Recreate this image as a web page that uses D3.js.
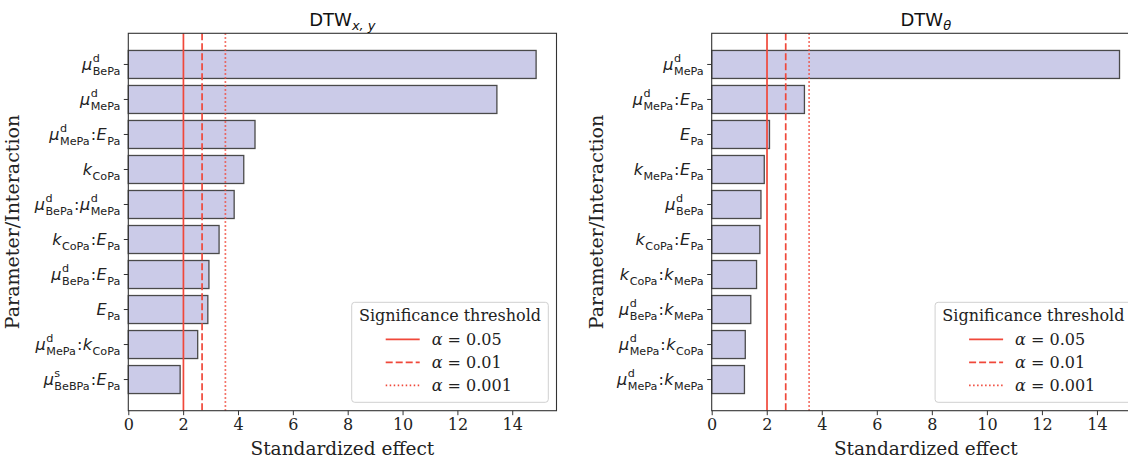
<!DOCTYPE html>
<html>
<head>
<meta charset="utf-8">
<script src="https://cdn.jsdelivr.net/npm/d3@7"></script>
<style>
  html, body { margin: 0; padding: 0; background: #fff; }
  svg { display: block; }
</style>
</head>
<body>
<div id="chart"></div>
<script>
// Left panel: DTW_{x,y}, top to bottom
var leftLabels = [
  'μ^d_BePa', 'μ^d_MePa', 'μ^d_MePa:E_Pa', 'k_CoPa', 'μ^d_BePa:μ^d_MePa',
  'k_CoPa:E_Pa', 'μ^d_BePa:E_Pa', 'E_Pa', 'μ^d_MePa:k_CoPa', 'μ^s_BeBPa:E_Pa'
];
var leftValues = [14.87, 13.44, 4.62, 4.21, 3.86, 3.31, 2.94, 2.90, 2.53, 1.89];

// Right panel: DTW_theta, top to bottom
var rightLabels = [
  'μ^d_MePa', 'μ^d_MePa:E_Pa', 'E_Pa', 'k_MePa:E_Pa', 'μ^d_BePa',
  'k_CoPa:E_Pa', 'k_CoPa:k_MePa', 'μ^d_BePa:k_MePa', 'μ^d_MePa:k_CoPa', 'μ^d_MePa:k_MePa'
];
var rightValues = [14.82, 3.37, 2.10, 1.91, 1.79, 1.75, 1.63, 1.42, 1.22, 1.19];

// Significance thresholds
var thresholds = [2.01, 2.69, 3.54];
var thresholdNames = ['α = 0.05', 'α = 0.01', 'α = 0.001'];
var thresholdDash = [null, '7,3', '1.5,2.5'];

var xTicks = [0, 2, 4, 6, 8, 10, 12, 14];

var W = 1128, H = 461;
var lineColor = '#f0483a';
var serif = '"DejaVu Serif", serif';
var sans = '"DejaVu Sans", sans-serif';

var svg = d3.select('#chart').append('svg').attr('width', W).attr('height', H);

drawPanel({ left: 128.3, labels: leftLabels, values: leftValues, sub: 'x, y' });
drawPanel({ left: 711.7, labels: rightLabels, values: rightValues, sub: 'θ' });

function drawPanel(cfg) {
  var top = 33.3, bottom = 410.7, width = 428.2;
  var right = cfg.left + width;

  var x = d3.scaleLinear()
    .domain([0, d3.max(cfg.values) * 1.05])
    .range([cfg.left, right]);

  var y = d3.scaleBand()
    .domain(cfg.labels)
    .range([top, bottom])
    .paddingInner(0.2)
    .paddingOuter(0.49);

  var g = svg.append('g');

  // bars
  g.append('g').selectAll('rect')
    .data(cfg.values)
    .join('rect')
    .attr('x', x(0))
    .attr('y', (d, i) => y(cfg.labels[i]))
    .attr('width', (d) => x(d) - x(0))
    .attr('height', y.bandwidth())
    .attr('fill', '#cbcbe8')
    .attr('stroke', '#4a4a4a')
    .attr('stroke-width', 1.3);

  // threshold lines
  g.append('g').selectAll('line')
    .data(thresholds)
    .join('line')
    .attr('x1', (d) => x(d)).attr('x2', (d) => x(d))
    .attr('y1', top).attr('y2', bottom)
    .attr('stroke', lineColor)
    .attr('stroke-width', 1.7)
    .attr('stroke-dasharray', (d, i) => thresholdDash[i]);

  // frame
  g.append('rect')
    .attr('x', cfg.left).attr('y', top)
    .attr('width', width).attr('height', bottom - top)
    .attr('fill', 'none')
    .attr('stroke', '#333')
    .attr('stroke-width', 1.1);

  // x axis
  var xAxis = g.append('g')
    .attr('transform', `translate(0,${bottom})`)
    .call(d3.axisBottom(x).tickValues(xTicks).tickSize(4.5).tickPadding(3.5));
  xAxis.select('.domain').remove();
  xAxis.selectAll('line').attr('stroke', '#333');
  xAxis.selectAll('text')
    .attr('font-family', serif).attr('font-size', 16).attr('fill', '#222');

  // y ticks
  var yAxis = g.append('g')
    .attr('transform', `translate(${cfg.left},0)`)
    .call(d3.axisLeft(y).tickSize(4.5).tickFormat(''));
  yAxis.select('.domain').remove();
  yAxis.selectAll('line').attr('stroke', '#333');

  // math tick labels
  cfg.labels.forEach(function (lab) {
    var cy = y(lab) + y.bandwidth() / 2;
    drawMathLabel(g, lab, cfg.left - 8, cy);
  });

  // title
  var cx = (cfg.left + right) / 2;
  var title = g.append('text')
    .attr('x', cx).attr('y', 26)
    .attr('text-anchor', 'middle')
    .attr('font-family', sans).attr('font-size', 18).attr('fill', '#111');
  title.append('tspan').text('DTW');
  title.append('tspan')
    .attr('font-size', 13).attr('font-style', 'italic').attr('dy', 4)
    .text(cfg.sub);

  // axis labels
  g.append('text')
    .attr('x', cx).attr('y', 455)
    .attr('text-anchor', 'middle')
    .attr('font-family', serif).attr('font-size', 18.5).attr('fill', '#222')
    .text('Standardized effect');

  g.append('text')
    .attr('transform', `translate(${cfg.left - 109},${(top + bottom) / 2}) rotate(-90)`)
    .attr('text-anchor', 'middle')
    .attr('font-family', serif).attr('font-size', 19).attr('fill', '#222')
    .text('Parameter/Interaction');

  // legend
  var lx = right - 204.8, ly = 302.3;
  var leg = g.append('g').attr('transform', `translate(${lx},${ly})`);
  leg.append('rect')
    .attr('width', 196.6).attr('height', 100)
    .attr('rx', 3)
    .attr('fill', 'rgba(255,255,255,0.85)')
    .attr('stroke', '#d0d0d0');
  leg.append('text')
    .attr('x', 98.3).attr('y', 19)
    .attr('text-anchor', 'middle')
    .attr('font-family', serif).attr('font-size', 16).attr('fill', '#222')
    .text('Significance threshold');
  var rows = leg.selectAll('g.row')
    .data(thresholdNames)
    .join('g')
    .attr('class', 'row')
    .attr('transform', (d, i) => `translate(0,${37 + i * 23})`);
  rows.append('line')
    .attr('x1', 34).attr('x2', 68)
    .attr('stroke', lineColor).attr('stroke-width', 1.7)
    .attr('stroke-dasharray', (d, i) => thresholdDash[i]);
  rows.append('text')
    .attr('x', 80).attr('y', 6)
    .attr('font-family', serif).attr('font-size', 16).attr('fill', '#222')
    .text((d) => d)
    .each(function () {
      // alpha in italic
      var t = d3.select(this), s = t.text();
      t.text(null);
      t.append('tspan').attr('font-style', 'italic').text(s.slice(0, 1));
      t.append('tspan').text(s.slice(1));
    });
}

// Render labels like "μ^d_BePa:E_Pa" as mathtext-like pieces, right aligned at xr
function drawMathLabel(parent, lab, xr, cy) {
  var grp = parent.append('g');
  var cursor = 0;
  var base = 16, small = 11.2;
  var baseY = 5.5;
  var terms = lab.split(':');
  terms.forEach(function (term, ti) {
    var m = term.match(/^([^\^_]+)(?:\^([^_]+))?(?:_(.+))?$/);
    var b = grp.append('text')
      .attr('x', cursor).attr('y', baseY)
      .attr('font-family', sans).attr('font-style', 'italic')
      .attr('font-size', base).attr('fill', '#222')
      .text(m[1]);
    cursor += b.node().getComputedTextLength() + 0.5;
    var sw = 0;
    if (m[2]) {
      var s = grp.append('text')
        .attr('x', cursor).attr('y', baseY - 8)
        .attr('font-family', sans).attr('font-size', small).attr('fill', '#222')
        .text(m[2]);
      sw = s.node().getComputedTextLength();
    }
    if (m[3]) {
      var u = grp.append('text')
        .attr('x', cursor).attr('y', baseY + 5)
        .attr('font-family', sans).attr('font-size', small).attr('fill', '#222')
        .text(m[3]);
      sw = Math.max(sw, u.node().getComputedTextLength());
    }
    cursor += sw;
    if (ti < terms.length - 1) {
      var c = grp.append('text')
        .attr('x', cursor + 1).attr('y', baseY)
        .attr('font-family', sans).attr('font-size', base).attr('fill', '#222')
        .text(':');
      cursor += c.node().getComputedTextLength() + 1.5;
    }
  });
  grp.attr('transform', `translate(${xr - cursor},${cy})`);
}
</script>
</body>
</html>
